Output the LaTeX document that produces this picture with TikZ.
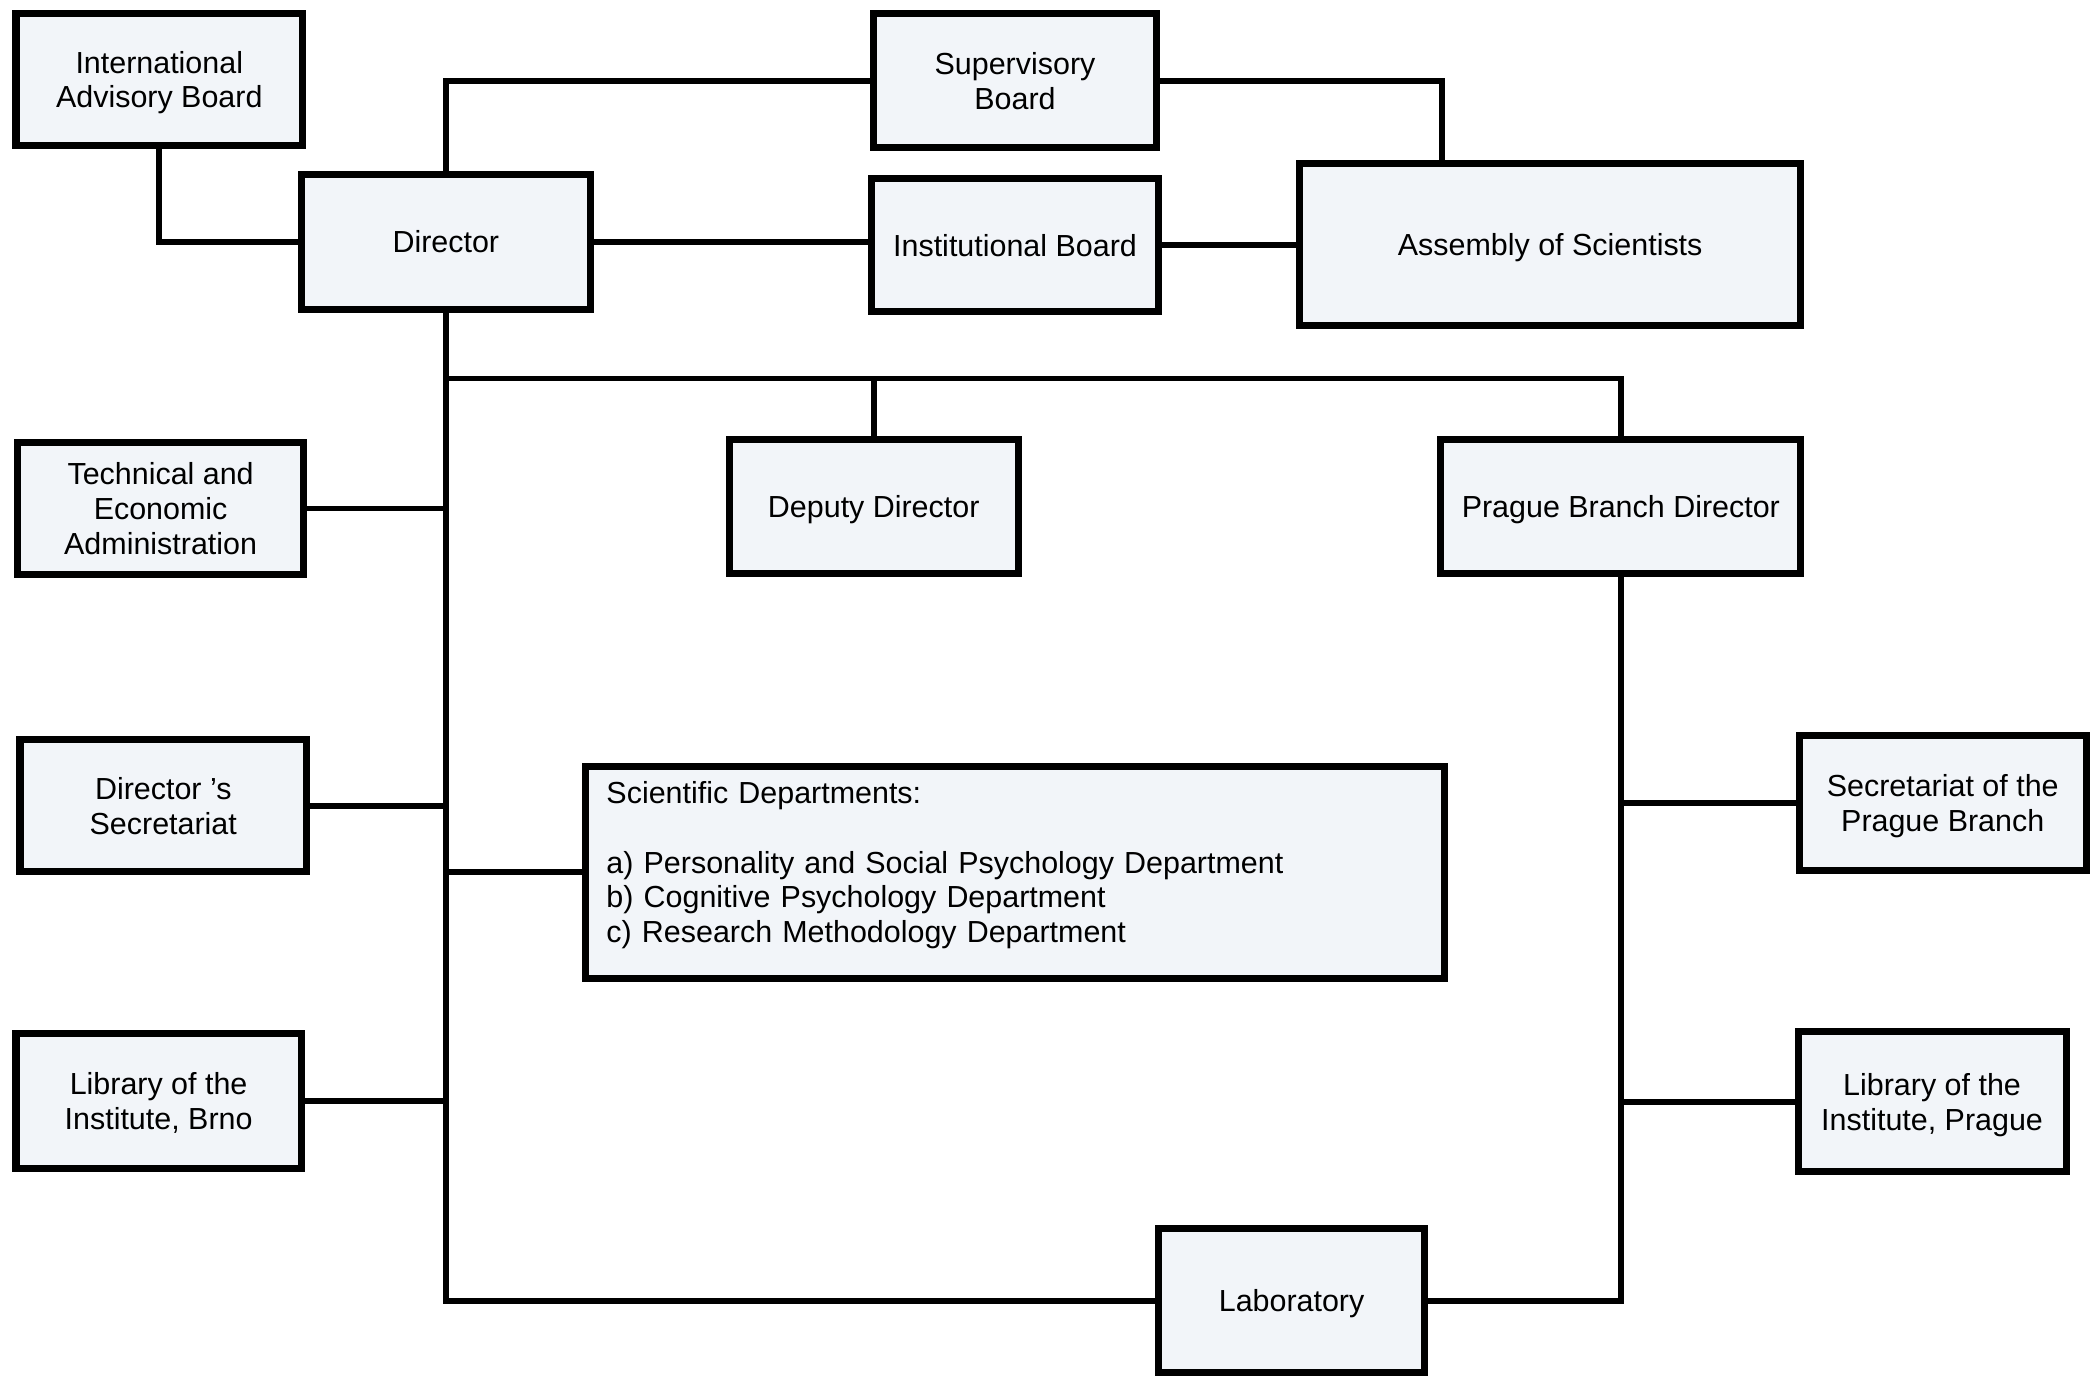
\documentclass[tikz,border=0pt]{standalone}
\usepackage{fontspec}
\setmainfont{Liberation Sans}
\definecolor{boxfill}{HTML}{F2F5F9}
\tikzset{
  box/.style={draw=black, fill=boxfill, line width=3pt, rectangle, inner sep=2pt,
    align=center, font=\fontsize{13}{14.8}\selectfont},
  conn/.style={draw=black, line width=2.5pt, line join=miter}
}
\newcommand\bx[7][]{\node[box,text depth=0pt,#1, minimum width={(#5-#3)*0.02cm}, minimum height={(#6-#4)*0.02cm}] (#2) at ({(#3+#5)/2},{(#4+#6)/2}) {#7};}
\begin{document}
\begin{tikzpicture}[x=0.02cm, y=-0.02cm]
\fill[white] (0,0) rectangle (1568,1041);
\useasboundingbox (0,0) rectangle (1568,1041);
\bx{iab}{12}{10}{227}{109}{International\\Advisory Board}
\bx{sup}{655}{10}{868}{111}{Supervisory\\Board}
\bx{dir}{226}{131}{443}{232}{Director}
\bx{inst}{654}{134}{869}{234}{Institutional Board}
\bx{asm}{975}{123}{1351}{244}{Assembly of Scientists}
\bx{tea}{13}{332}{228}{431}{Technical and\\Economic\\Administration}
\bx{dep}{547}{330}{764}{430}{Deputy Director}
\bx{pbd}{1081}{330}{1351}{430}{Prague Branch Director}
\bx{dsec}{15}{555}{230}{654}{Director 's\\Secretariat}
\node[box, align=left, inner xsep=0.32cm, text width={(1084-439-32)*0.02cm}, minimum height={(734-575)*0.02cm}] (sci) at ({(439+1084)/2},{(575+734)/2}) {Scientific Departments:\\[14.8pt]a) Personality and Social Psychology Department\\b) Cognitive Psychology Department\\c) Research Methodology Department\\[-6pt]\mbox{}};
\bx{spb}{1350}{552}{1565}{653}{Secretariat of the\\Prague Branch}
\bx{libb}{12}{775}{226}{877}{Library of the\\Institute, Brno}
\bx{libp}{1349}{774}{1550}{879}{Library of the\\Institute, Prague}
\bx{lab}{869}{922}{1069}{1030}{Laboratory}
\coordinate (c1) at (1082,0);
\coordinate (br) at (334,284);
% top connectors
\draw[conn] (iab.south) |- (dir.west);
\draw[conn] (dir.north) |- (sup.west);
\draw[conn] (sup.east) -| (asm.north -| c1);
\draw[conn] (dir.east) -- (dir.east -| inst.west);
\draw[conn] (inst.east) -- (inst.east -| asm.west);
% main spine
\draw[conn] (dir.south) |- (lab.west);
\draw[conn] (dir.south |- br) -| (pbd.north);
\draw[conn] (dep.north) -- (dep.north |- br);
\draw[conn] (tea.east) -- (tea.east -| dir.south);
\draw[conn] (dsec.east) -- (dsec.east -| dir.south);
\draw[conn] (sci.west) -- (sci.west -| dir.south);
\draw[conn] (libb.east) -- (libb.east -| dir.south);
% Prague spine
\draw[conn] (pbd.south) |- (lab.east);
\draw[conn] (spb.west) -- (spb.west -| pbd.south);
\draw[conn] (libp.west) -- (libp.west -| pbd.south);
\end{tikzpicture}
\end{document}
